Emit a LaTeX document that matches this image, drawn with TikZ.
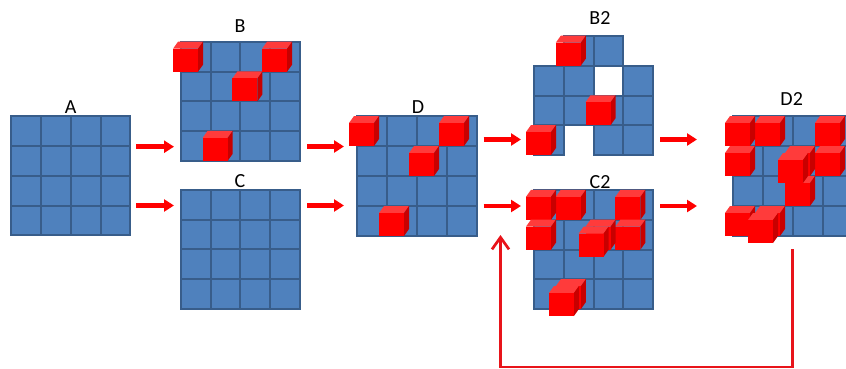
\documentclass[tikz,border=0pt]{standalone}
\usepackage{fontspec}
\setmainfont{Carlito}
\usetikzlibrary{arrows.meta}
\definecolor{cellblue}{HTML}{4F81BD}
\definecolor{celledge}{HTML}{385D8A}
\definecolor{cfront}{HTML}{FF0000}
\definecolor{ctop}{HTML}{FF3B3B}
\definecolor{cside}{HTML}{C80000}
\definecolor{arrred}{HTML}{FF0000}
\definecolor{fbred}{HTML}{E8141A}
\tikzset{
  cellbox/.style={fill=cellblue,draw=celledge,line width=2pt},
  lbl/.style={font=\fontsize{20}{24}\selectfont,inner sep=0pt,anchor=base},
  flowarrow/.style={draw=arrred,line width=4.5pt,-{Triangle[length=10pt,width=12pt]}},
  fbarrow/.style={draw=fbred,line width=2.7pt,-{Straight Barb[length=12pt,width=17pt,line width=2.7pt]}},
}
% cube with front-bottom-left corner at (#1,#2), y downwards
\newcommand\rcube[2]{%
  \fill[ctop] (#1,#2-23) -- ++(5,-7) -- ++(25,0) -- ++(-5,7) -- cycle;
  \fill[cside] (#1+25,#2) -- ++(0,-23) -- ++(5,-7) -- ++(0,23) -- cycle;
  \fill[cfront] (#1,#2) rectangle ++(25,-23);
}
% cube on cell (col #4,row #5) of grid at (#1,#2) with cell size #3
\newcommand\gcube[5]{\rcube{#1+#4*#3-8}{#2+#5*#3+#3}}
% stacked (front) cube
\newcommand\gcubeup[5]{\rcube{#1+#4*#3-15}{#2+#5*#3+#3+7}}
% full 4x4 grid
\newcommand\fullgrid[3]{%
  \foreach \cc in {0,...,3}{\foreach \rr in {0,...,3}{%
    \draw[cellbox] (#1+\cc*#3,#2+\rr*#3) rectangle ++(#3,#3);}}}
\begin{document}
\begin{tikzpicture}[x=1pt,y=-1pt]
\useasboundingbox (0,0) rectangle (846,369);
% ---- A ----
\fullgrid{11}{116}{29.85}
\node[lbl] (labA) at (70.7,113) {A};
% ---- B ----
\fullgrid{181}{42}{29.7}
\node[lbl] (labB) at (240,32.7) {B};
\gcube{181}{42}{29.7}{3}{0}
\gcube{181}{42}{29.7}{0}{0}
\gcube{181}{42}{29.7}{2}{1}
\gcube{181}{42}{29.7}{1}{3}
% ---- C ----
\fullgrid{181}{190}{29.7}
\node[lbl] (labC) at (240,187.5) {C};
% ---- D ----
\fullgrid{357}{116}{30}
\node[lbl] (labD) at (418,113) {D};
\gcube{357}{116}{30}{3}{0}
\gcube{357}{116}{30}{0}{0}
\gcube{357}{116}{30}{2}{1}
\gcube{357}{116}{30}{1}{3}
% ---- B2 ----
\foreach \cc/\rr in {1/0,2/0,0/1,1/1,3/1,0/2,1/2,2/2,3/2,0/3,2/3,3/3}{%
  \draw[cellbox] (534+\cc*29.75,36+\rr*29.75) rectangle ++(29.75,29.75);}
\node[lbl] (labB2) at (600,25) {B2};
\gcube{534}{36}{29.75}{1}{0}
\gcube{534}{36}{29.75}{2}{2}
\gcube{534}{36}{29.75}{0}{3}
% ---- C2 ----
\fullgrid{534}{190}{29.8}
\node[lbl] (labC2) at (600,188) {C2};
\gcube{534}{190}{29.8}{3}{0}
\gcube{534}{190}{29.8}{1}{0}
\gcube{534}{190}{29.8}{0}{0}
\gcube{534}{190}{29.8}{3}{1}
\gcube{534}{190}{29.8}{2}{1}
\gcube{534}{190}{29.8}{0}{1}
\gcube{534}{190}{29.8}{1}{3}
\gcubeup{534}{190}{29.8}{2}{1}
\gcubeup{534}{190}{29.8}{1}{3}
% ---- D2 ----
\fullgrid{733}{116}{30}
\node[lbl] (labD2) at (791.7,105) {D2};
\gcube{733}{116}{30}{3}{0}
\gcube{733}{116}{30}{1}{0}
\gcube{733}{116}{30}{0}{0}
\gcube{733}{116}{30}{3}{1}
\gcube{733}{116}{30}{2}{1}
\gcube{733}{116}{30}{0}{1}
\gcube{733}{116}{30}{2}{2}
\gcube{733}{116}{30}{1}{3}
\gcube{733}{116}{30}{0}{3}
\gcubeup{733}{116}{30}{2}{1}
\gcubeup{733}{116}{30}{1}{3}
% ---- flow arrows ----
\coordinate (ab1) at (136,146.7);   \coordinate (ab2) at (174,146.7);
\coordinate (ac1) at (136,205.5);   \coordinate (ac2) at (174,205.5);
\coordinate (bd1) at (307,146.5);   \coordinate (bd2) at (344,146.5);
\coordinate (cd1) at (307,205.5);   \coordinate (cd2) at (344,205.5);
\coordinate (db1) at (483.5,139.5); \coordinate (db2) at (521,139.5);
\coordinate (dc1) at (483.5,206);   \coordinate (dc2) at (521,206);
\coordinate (bz1) at (660,139.5);   \coordinate (bz2) at (697,139.5);
\coordinate (cz1) at (660,206);     \coordinate (cz2) at (697,206);
\foreach \s/\e in {ab1/ab2,ac1/ac2,bd1/bd2,cd1/cd2,db1/db2,dc1/dc2,bz1/bz2,cz1/cz2}{%
  \draw[flowarrow] (\s) -- (\e);}
% ---- feedback ----
\coordinate (fb0) at (792.7,249);
\coordinate (fb1) at (792.7,367);
\coordinate (fb2) at (500.5,367);
\coordinate (fb3) at (500.5,235);
\draw[fbarrow] (fb0) -- (fb1) -- (fb2) -- (fb3);
\end{tikzpicture}
\end{document}
